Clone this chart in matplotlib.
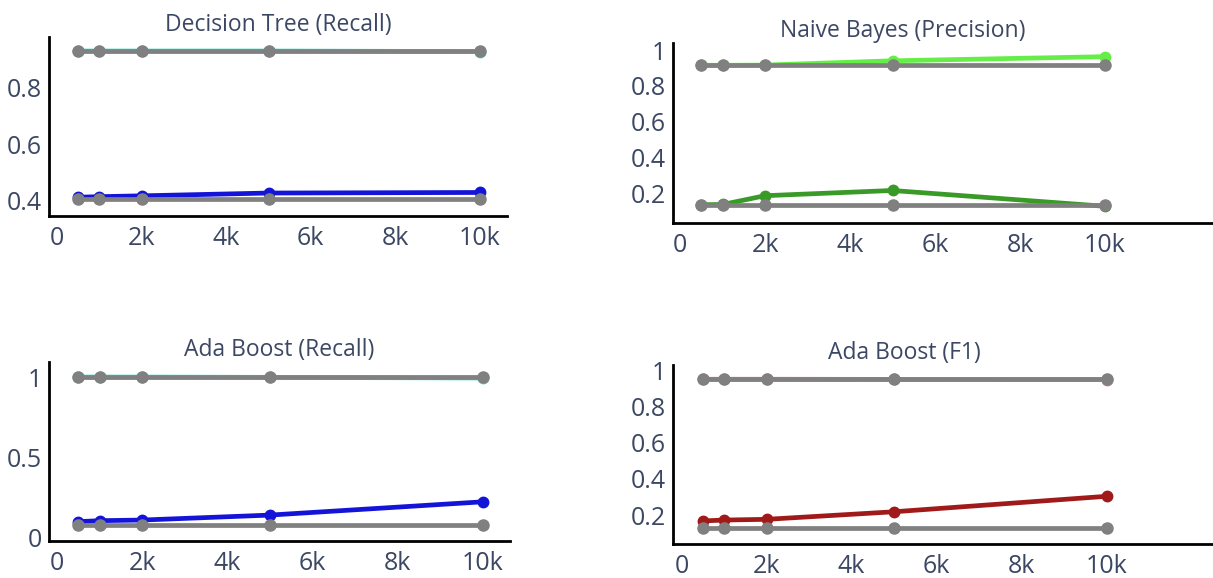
import numpy as np
import matplotlib
matplotlib.use("Agg")
import matplotlib.pyplot as plt

plt.rcParams['font.family'] = ['Open Sans', 'DejaVu Sans']

# training set sizes
sizes = [500, 1000, 2000, 5000, 10000]

# Decision Tree (Recall)
dt_hi = [0.932, 0.932, 0.932, 0.932, 0.930]
dt_lo = [0.410, 0.412, 0.415, 0.425, 0.427]
dt_base_hi = [0.932, 0.932, 0.932, 0.932, 0.932]
dt_base_lo = [0.404, 0.404, 0.404, 0.404, 0.404]

# Naive Bayes (Precision)
nb_hi = [0.915, 0.915, 0.916, 0.940, 0.963]
nb_lo = [0.139, 0.140, 0.189, 0.218, 0.130]
nb_base_hi = [0.915, 0.915, 0.915, 0.915, 0.915]
nb_base_lo = [0.139, 0.139, 0.139, 0.139, 0.139]

# Ada Boost (Recall)
abr_hi = [1.0, 1.0, 1.0, 0.998, 0.994]
abr_lo = [0.096, 0.102, 0.106, 0.137, 0.220]
abr_base_hi = [1.0, 1.0, 1.0, 1.0, 1.0]
abr_base_lo = [0.075, 0.075, 0.075, 0.075, 0.075]

# Ada Boost (F1)
abf_hi = [0.954, 0.954, 0.954, 0.953, 0.952]
abf_lo = [0.167, 0.172, 0.176, 0.218, 0.304]
abf_base_hi = [0.954, 0.954, 0.954, 0.954, 0.954]
abf_base_lo = [0.130, 0.130, 0.130, 0.130, 0.130]

xticks = [0, 2000, 4000, 6000, 8000, 10000]
xticklabels = ['0', '2k', '4k', '6k', '8k', '10k']

W, H = 1213, 578
TXT = '#3b4763'
GRAY = '#808080'


def rect(l, t, r, b):
    return [l / W, 1 - b / H, (r - l) / W, (b - t) / H]


def panel(fig, pos, xlim, ylim, yticks, ylabels, title, tx, series):
    ax = fig.add_axes(rect(*pos))
    for y, c in series:
        ax.plot(sizes, y, color=c, lw=3.4, marker='o', ms=7.5, mec=c, mfc=c,
                solid_capstyle='round', zorder=2)
    for y in series_base[title]:
        ax.plot(sizes, y, color=GRAY, lw=3.4, marker='o', ms=8,
                solid_capstyle='round', zorder=3)
    ax.set_xlim(*xlim)
    ax.set_ylim(*ylim)
    ax.set_xticks(xticks)
    ax.set_xticklabels(xticklabels)
    ax.set_yticks(yticks)
    ax.set_yticklabels(ylabels)
    ax.tick_params(length=0, labelsize=18, labelcolor=TXT)
    ax.tick_params(axis='x', pad=7)
    ax.tick_params(axis='y', pad=5)
    for s in ['top', 'right']:
        ax.spines[s].set_visible(False)
    for s in ['left', 'bottom']:
        ax.spines[s].set_linewidth(2)
        ax.spines[s].set_color('black')
    ax.text(tx, 1.0, title, transform=ax.get_xaxis_transform(), ha='center',
            va='bottom', fontsize=16.5, color=TXT)
    return ax


series_base = {
    'Decision Tree (Recall)': [dt_base_hi, dt_base_lo],
    'Naive Bayes (Precision)': [nb_base_hi, nb_base_lo],
    'Ada Boost (Recall)': [abr_base_hi, abr_base_lo],
    'Ada Boost (F1)': [abf_base_hi, abf_base_lo],
}

fig = plt.figure(figsize=(W / 100, H / 100), dpi=100)

panel(fig, (49, 37, 507, 216), (-189, 10638), (0.343, 0.982),
      [0.4, 0.6, 0.8], ['0.4', '0.6', '0.8'],
      'Decision Tree (Recall)', 5225,
      [(dt_hi, '#4fd8cc'), (dt_lo, '#1414d8')])

panel(fig, (673, 43, 1213, 223), (-165, 12541), (0.037, 1.039),
      [0.2, 0.4, 0.6, 0.8, 1.0], ['0.2', '0.4', '0.6', '0.8', '1'],
      'Naive Bayes (Precision)', 5247,
      [(nb_hi, '#66ee48'), (nb_lo, '#3a9a28')])

panel(fig, (49, 362, 510, 541), (-189, 10638), (-0.025, 1.094),
      [0, 0.5, 1.0], ['0', '0.5', '1'],
      'Ada Boost (Recall)', 5225,
      [(abr_hi, '#4fd8cc'), (abr_lo, '#1414d8')])

panel(fig, (673, 365, 1213, 544), (-200, 12500), (0.039, 1.033),
      [0.2, 0.4, 0.6, 0.8, 1.0], ['0.2', '0.4', '0.6', '0.8', '1'],
      'Ada Boost (F1)', 5247,
      [(abf_hi, '#d08484'), (abf_lo, '#a01a1a')])

fig.savefig('out.png', dpi=100)
